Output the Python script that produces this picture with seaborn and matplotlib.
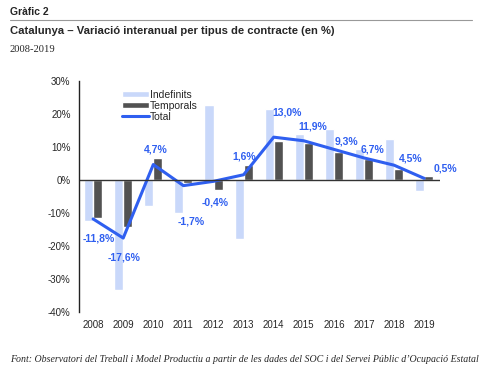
import matplotlib
matplotlib.use("Agg")
import matplotlib.pyplot as plt
import seaborn as sns
import pandas as pd
from matplotlib.patches import Patch
from matplotlib.lines import Line2D

years = [str(y) for y in range(2008, 2020)]
indefinits = [-12.3, -33.5, -8.0, -10.1, 22.7, -17.8, 21.5, 13.9, 15.5, 9.5, 12.4, -3.3]
temporals = [-11.6, -14.1, 6.6, -0.8, -3.1, 4.5, 11.9, 11.3, 8.4, 6.3, 3.3, 1.2]
total = [-11.8, -17.6, 4.7, -1.7, -0.4, 1.6, 13.0, 11.9, 9.3, 6.7, 4.5, 0.5]
# label offsets in pixels for the total labels
label_offsets = [(6, -20), (1, -19), (2, 15), (8, -36), (2, -21), (1, 18),
                 (13, 25), (9, 14), (13, 8), (9, 8), (17, 7), (21, 10)]

light = "#c9d8fa"
dark = "#525252"
blue = "#2f5ff0"

sns.set_style("white")
plt.rcParams["font.family"] = ["Liberation Sans", "DejaVu Sans"]

df = pd.DataFrame({
    "any": years * 2,
    "valor": indefinits + temporals,
    "tipus": ["Indefinits"] * 12 + ["Temporals"] * 12,
})

fig = plt.figure(figsize=(5.03, 3.79), dpi=100)
ax = fig.add_axes([0.157, 0.177, 0.718, 0.609])

sns.barplot(data=df, x="any", y="valor", hue="tipus", palette=[light, dark],
            width=0.6, gap=0, saturation=1, legend=False, ax=ax)
sns.lineplot(x=list(range(12)), y=total, color=blue, linewidth=2.2, ax=ax)

for i, v in enumerate(total):
    ax.annotate(f"{v:.1f}%".replace(".", ","), (i, v), xytext=label_offsets[i],
                textcoords="offset pixels", ha="center", va="center",
                color=blue, fontsize=7.5, fontweight="bold")

ax.axhline(0, color="#333333", linewidth=1)
ax.set_xlim(-0.47, 11.53)
ax.set_ylim(-40, 30)
ax.set_yticks(range(-40, 31, 10))
ax.set_yticklabels([f"{t}%" for t in range(-40, 31, 10)])
ax.set_xlabel("")
ax.set_ylabel("")
ax.tick_params(axis="y", labelsize=7, length=0, pad=6)
ax.tick_params(axis="x", labelsize=7, length=0, pad=6)
for s in ["top", "right", "bottom"]:
    ax.spines[s].set_visible(False)
ax.spines["left"].set_color("#222222")
ax.spines["left"].set_linewidth(1)

handles = [Patch(facecolor=light, label="Indefinits"),
           Patch(facecolor=dark, label="Temporals"),
           Line2D([0], [0], color=blue, linewidth=2.2, label="Total")]
ax.legend(handles=handles, loc="upper left", bbox_to_anchor=(0.105, 0.985),
          frameon=False, fontsize=7.5, handlelength=2.6, handleheight=0.6,
          handletextpad=0.1, labelspacing=0.1, borderpad=0)

fig.text(10 / 503, 1 - 12 / 379, "Gràfic 2", fontsize=7.5, fontweight="bold",
         va="center", ha="left")
fig.add_artist(Line2D([10 / 503, 472 / 503], [1 - 20 / 379, 1 - 20 / 379],
                      color="#999999", linewidth=0.8))
fig.text(10 / 503, 1 - 31 / 379,
         "Catalunya – Variació interanual per tipus de contracte (en %)",
         fontsize=8.1, fontweight="bold", va="center", ha="left")
fig.text(10 / 503, 1 - 50 / 379, "2008-2019", fontsize=7.6,
         family=["Liberation Serif", "DejaVu Serif"], va="center", ha="left")
fig.text(10 / 503, 1 - 360 / 379,
         "Font: Observatori del Treball i Model Productiu a partir de les dades del SOC i del Servei Públic d’Ocupació Estatal",
         fontsize=7.1, style="italic", family=["Liberation Serif", "DejaVu Serif"],
         va="center", ha="left")

fig.savefig("out.png", dpi=100)
